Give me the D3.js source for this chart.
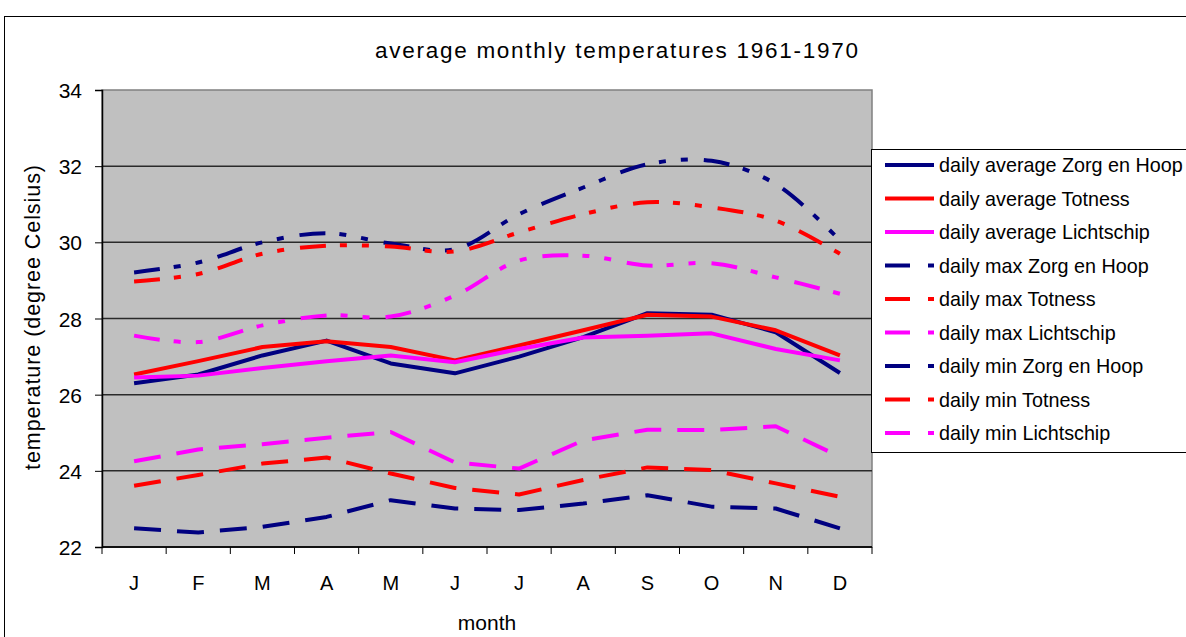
<!DOCTYPE html>
<html>
<head>
<meta charset="utf-8">
<script src="https://cdn.jsdelivr.net/npm/d3@7"></script>
<style>
  body { margin: 0; background: #fff; }
  svg text { font-family: "Liberation Sans", Arial, sans-serif; fill: #000; }
</style>
</head>
<body>
<div class="canvas"></div>
<script>
// data
const months = ['J', 'F', 'M', 'A', 'M', 'J', 'J', 'A', 'S', 'O', 'N', 'D'];
const yTicks = [22, 24, 26, 28, 30, 32, 34];

const avgZorg = [26.30, 26.53, 27.03, 27.42, 26.82, 26.56, 27.00, 27.51, 28.14, 28.10, 27.64, 26.57];
const avgTotness = [26.53, 26.88, 27.25, 27.40, 27.25, 26.90, 27.29, 27.69, 28.10, 28.05, 27.69, 27.03];
const avgLicht = [26.45, 26.50, 26.70, 26.88, 27.03, 26.85, 27.20, 27.50, 27.55, 27.61, 27.20, 26.90];

const maxZorg = [29.21, 29.47, 30.00, 30.24, 29.97, 29.82, 30.74, 31.44, 32.05, 32.14, 31.53, 30.05];
const maxTotness = [28.97, 29.17, 29.70, 29.91, 29.89, 29.76, 30.26, 30.74, 31.05, 30.92, 30.57, 29.70];
const maxLicht = [27.55, 27.38, 27.82, 28.08, 28.05, 28.60, 29.52, 29.65, 29.39, 29.45, 29.08, 28.65];

const minZorg = [22.49, 22.38, 22.53, 22.79, 23.23, 23.01, 22.97, 23.14, 23.36, 23.06, 23.01, 22.49];
const minTotness = [23.61, 23.89, 24.19, 24.35, 23.93, 23.55, 23.38, 23.76, 24.09, 24.02, 23.67, 23.32];
const minLicht = [24.25, 24.56, 24.70, 24.87, 25.02, 24.22, 24.06, 24.80, 25.08, 25.07, 25.17, 24.37];

const series = [
  {name: 'daily average Zorg en Hoop', values: avgZorg, color: '#000080', kind: 'avg'},
  {name: 'daily average Totness', values: avgTotness, color: '#ff0000', kind: 'avg'},
  {name: 'daily average Lichtschip', values: avgLicht, color: '#ff00ff', kind: 'avg'},
  {name: 'daily max Zorg en Hoop', values: maxZorg, color: '#000080', kind: 'max'},
  {name: 'daily max Totness', values: maxTotness, color: '#ff0000', kind: 'max'},
  {name: 'daily max Lichtschip', values: maxLicht, color: '#ff00ff', kind: 'max'},
  {name: 'daily min Zorg en Hoop', values: minZorg, color: '#000080', kind: 'min'},
  {name: 'daily min Totness', values: minTotness, color: '#ff0000', kind: 'min'},
  {name: 'daily min Lichtschip', values: minLicht, color: '#ff00ff', kind: 'min'}
];

const dashes = {avg: null, max: '26,14,7,15,7,16', min: '27,16'};

const svg = d3.select('.canvas')
  .append('svg')
    .attr('width', 1186)
    .attr('height', 637);

// outer chart border
svg.append('rect')
  .attr('x', 4.5).attr('y', 16.5)
  .attr('width', 1200).attr('height', 700)
  .attr('fill', '#fff').attr('stroke', '#000').attr('stroke-width', 1);

const margin = {top: 90, left: 102};
const graphWidth = 770;
const graphHeight = 457;

const graph = svg.append('g')
  .attr('transform', `translate(${margin.left}, ${margin.top})`);

// scales
const x = d3.scaleBand()
  .domain(d3.range(12))
  .range([0, graphWidth]);

const y = d3.scaleLinear()
  .domain([22, 34])
  .range([graphHeight, 0]);

// plot background
graph.append('rect')
  .attr('width', graphWidth).attr('height', graphHeight)
  .attr('fill', '#c0c0c0')
  .attr('stroke', '#808080').attr('stroke-width', 1.5);

// gridlines
graph.selectAll('.grid')
  .data(yTicks.slice(0, -1))
  .enter().append('line')
    .attr('x1', 0).attr('x2', graphWidth)
    .attr('y1', d => y(d)).attr('y2', d => y(d))
    .attr('stroke', '#2a2a2a').attr('stroke-width', 1.5);

// axes
const xAxisGroup = graph.append('g')
  .attr('transform', `translate(0, ${graphHeight})`);
const yAxisGroup = graph.append('g');

xAxisGroup.append('line')
  .attr('x1', 0).attr('x2', graphWidth)
  .attr('stroke', '#000').attr('stroke-width', 1.5);
xAxisGroup.selectAll('.tick')
  .data(d3.range(13))
  .enter().append('line')
    .attr('x1', d => d * x.bandwidth()).attr('x2', d => d * x.bandwidth())
    .attr('y1', 0).attr('y2', 7)
    .attr('stroke', '#000');
xAxisGroup.selectAll('text')
  .data(months)
  .enter().append('text')
    .attr('x', (d, i) => x(i) + x.bandwidth() / 2)
    .attr('y', 43)
    .attr('text-anchor', 'middle')
    .attr('font-size', 20)
    .text(d => d);

const yAxis = d3.axisLeft(y)
  .tickValues(yTicks)
  .tickSize(7)
  .tickPadding(13);
yAxisGroup.call(yAxis);
yAxisGroup.select('.domain').attr('stroke', '#000').attr('stroke-width', 1.5);
yAxisGroup.selectAll('text')
  .attr('font-size', 21)
  .attr('dy', '0.36em')
  .attr('font-family', '"Liberation Sans", Arial, sans-serif');

// lines
const line = d3.line()
  .x((d, i) => x(i) + x.bandwidth() / 2)
  .y(d => y(d));

graph.selectAll('.series')
  .data(series)
  .enter().append('path')
    .attr('d', d => line.curve(d.kind === 'max' ? d3.curveCatmullRom.alpha(0.5) : d3.curveLinear)(d.values))
    .attr('fill', 'none')
    .attr('stroke', d => d.color)
    .attr('stroke-width', 4)
    .attr('stroke-linejoin', 'round')
    .attr('stroke-dasharray', d => dashes[d.kind]);

// titles
svg.append('text')
  .attr('x', 375).attr('y', 58)
  .attr('font-size', 22.5)
  .attr('textLength', 483)
  .attr('lengthAdjust', 'spacing')
  .text('average monthly temperatures 1961-1970');

svg.append('text')
  .attr('x', 487).attr('y', 630)
  .attr('text-anchor', 'middle')
  .attr('font-size', 21)
  .text('month');

svg.append('text')
  .attr('transform', 'translate(40, 470) rotate(-90)')
  .attr('font-size', 21.5)
  .attr('textLength', 305)
  .attr('lengthAdjust', 'spacing')
  .text('temperature (degree Celsius)');

// legend
const legend = svg.append('g')
  .attr('transform', 'translate(871, 149)');
legend.append('rect')
  .attr('x', 0.5).attr('y', 0.5)
  .attr('width', 330).attr('height', 303)
  .attr('fill', '#fff').attr('stroke', '#000');

const items = legend.selectAll('.item')
  .data(series)
  .enter().append('g')
    .attr('transform', (d, i) => `translate(0, ${16 + i * 33.5})`);
items.append('line')
  .attr('x1', 14).attr('x2', 63)
  .attr('stroke', d => d.color)
  .attr('stroke-width', 4)
  .attr('stroke-dasharray', d => d.kind === 'avg' ? null : '25,18,6,100');
items.append('text')
  .attr('x', 68).attr('y', 7)
  .attr('font-size', 19.75)
  .text(d => d.name);
</script>
</body>
</html>
